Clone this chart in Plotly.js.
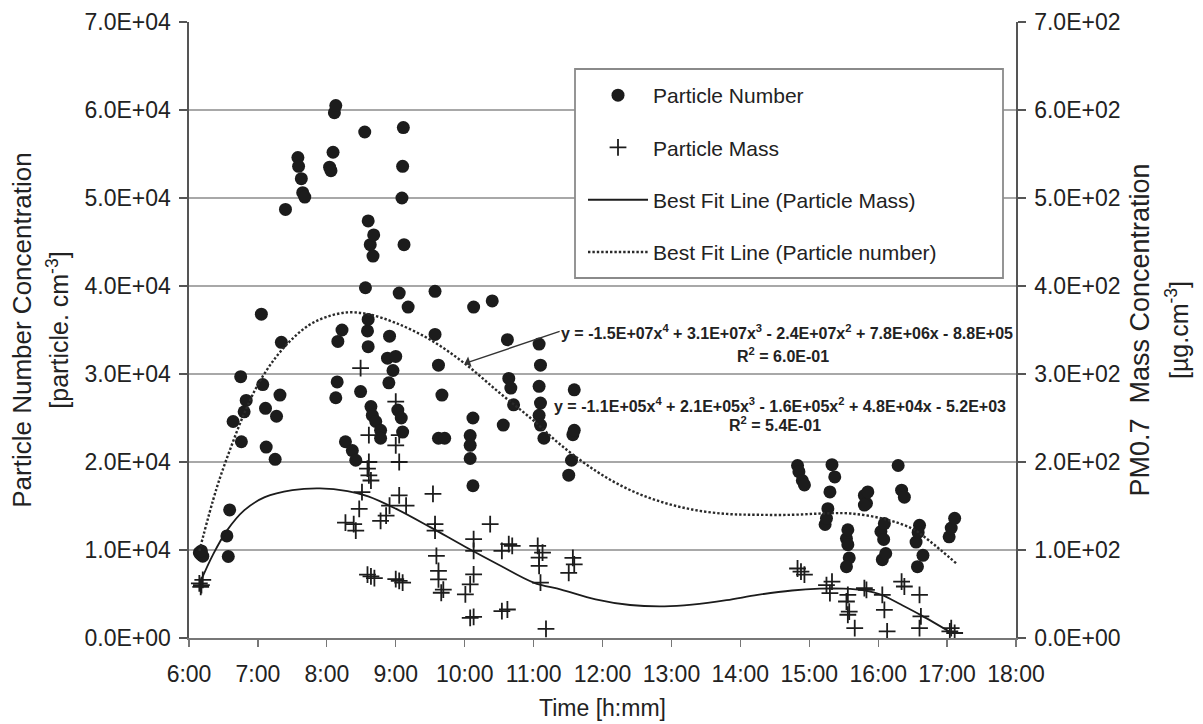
<!DOCTYPE html>
<html>
<head>
<meta charset="utf-8">
<script src="https://cdn.plot.ly/plotly-3.0.1.min.js"></script>
<style>html,body{margin:0;padding:0;background:#fff;}#chart{width:1203px;height:724px;}</style>
</head>
<body>
<div id="chart"></div>
<script>
// ---- data (time in decimal hours) ----
const numberTime = [6.15,6.17,6.20,6.18,6.55,6.57,6.59,6.64,6.75,6.76,6.80,6.83,
  7.05,7.07,7.11,7.12,7.25,7.27,7.32,7.34,7.40,7.58,7.59,7.63,7.65,7.68,
  8.04,8.06,8.09,8.11,8.13,8.13,8.15,8.16,8.22,8.27,8.37,8.42,
  8.49,8.55,8.56,8.59,8.60,8.60,8.60,8.63,8.67,8.68,8.64,8.66,8.71,8.78,8.78,
  8.88,8.90,8.91,8.96,9.00,9.03,9.08,9.10,9.05,9.09,9.10,9.11,9.12,9.18,
  9.57,9.57,9.62,9.67,9.62,9.71,
  10.08,10.08,10.08,10.12,10.12,10.13,10.40,
  10.56,10.62,10.64,10.67,10.71,
  11.08,11.10,11.08,11.10,11.08,11.10,11.15,
  11.51,11.55,11.57,11.59,11.59,
  14.83,14.85,14.90,14.93,
  15.23,15.25,15.27,15.30,15.33,15.37,
  15.54,15.56,15.58,15.54,15.56,
  15.80,15.83,15.85,15.80,
  16.04,16.09,16.06,16.11,16.08,
  16.29,16.34,16.38,
  16.55,16.60,16.57,16.65,16.58,
  17.03,17.06,17.11];
const numberConc = [9700,9500,9300,9900,11600,9260,14550,24600,29700,22300,25700,27000,
  36800,28800,26100,21700,20300,25200,27600,33600,48700,54600,53600,52200,50600,50100,
  53500,53100,55200,59700,60500,27300,29100,33700,35000,22300,21300,20200,
  28000,57500,39800,34900,36200,33100,47400,44700,43400,45800,26300,25300,24600,23600,22700,
  31800,29000,34300,30400,32000,25900,25000,23400,39200,50000,53600,58000,44700,37600,
  39400,34500,31000,27600,22700,22700,
  23000,21900,20400,25000,17300,37600,38300,
  24200,33900,29500,28400,26500,
  33400,31000,28600,26700,25300,24200,22700,
  18500,20200,23100,23600,28200,
  19600,18900,17900,17400,
  12900,13600,14700,16600,19700,18300,
  11300,10600,9100,8100,12300,
  16200,15300,16600,15100,
  12100,13000,8900,9600,11200,
  19600,16800,16000,
  10900,12800,8100,9400,12000,
  11500,12500,13600];

const massTime = [6.15,6.17,6.20,6.18,
  8.27,8.39,8.42,8.47,8.49,8.51,8.59,8.61,8.64,8.61,8.61,8.59,8.64,8.69,
  8.78,8.86,8.91,9.00,9.00,9.05,9.05,9.05,9.15,9.00,9.05,9.10,
  9.54,9.57,9.57,9.59,9.62,9.62,9.66,9.69,
  10.01,10.08,10.13,10.13,10.13,10.37,10.08,10.13,
  10.54,10.64,10.69,10.54,10.62,
  11.06,11.13,11.08,11.08,11.10,11.18,
  11.51,11.57,11.59,
  14.83,14.88,14.93,
  15.25,15.30,15.33,
  15.54,15.56,15.56,15.58,15.66,
  15.80,15.83,
  16.06,16.09,16.13,
  16.34,16.38,
  16.60,16.62,16.60,
  17.04,17.06,17.11];
const massConc = [62,58,66,60,
  131,129.5,122,146.7,306.7,165.7,192.4,184.8,179,200,230.5,72,70,68,
  133,139,150.5,268.6,219,230.5,200,162,150.5,67,65,63,
  163.8,129.5,122,93.3,76.2,66.7,51.4,55,
  49.5,61,72.4,99,112.4,129.5,22.9,24,
  99,106.7,104.8,30.5,32.4,
  104.8,97,91.4,82,62.9,10.3,
  74,91,83.6,
  79,75.5,72,
  60,51,64,
  41.5,49,26.4,30,11.3,
  56.6,54.7,
  49,32,7.5,
  64,58.5,
  49,24.5,11.3,
  7.5,11.3,5.7];

// best-fit curves
const fitNumberTime = [6.15,6.4,6.6,6.8,7.0,7.25,7.5,7.75,8.0,8.3,8.6,9.0,9.5,10.0,10.5,11.0,11.4,11.9,12.35,12.8,13.3,13.8,14.25,14.75,15.2,15.6,16.1,16.5,16.75,17.13];
const fitNumberConc = [9900,17000,21500,25500,28800,31800,34000,35600,36500,37000,36800,35800,33900,31200,27900,24700,21900,19000,17000,15600,14600,14100,14000,14000,14150,14150,13500,12400,11000,8500];
const fitMassTime = [6.15,6.35,6.55,6.8,7.1,7.5,7.9,8.3,8.6,9.0,9.5,10.0,10.5,11.0,11.4,11.9,12.4,12.9,13.3,13.8,14.25,14.75,15.15,15.5,15.8,16.05,16.33,16.62,17.06];
const fitMassConc = [61,95,122,145,160,168,170,167,161,147,126,104,83,63,55,44,37.5,36,38,43,49,54,56,56,54,49,38,26,6];

const xTickVals = [6,7,8,9,10,11,12,13,14,15,16,17,18];
const xTickText = ['6:00','7:00','8:00','9:00','10:00','11:00','12:00','13:00','14:00','15:00','16:00','17:00','18:00'];
const yTickVals = [0,10000,20000,30000,40000,50000,60000,70000];
const yTickText = ['0.0E+00','1.0E+04','2.0E+04','3.0E+04','4.0E+04','5.0E+04','6.0E+04','7.0E+04'];
const y2TickVals = [0,100,200,300,400,500,600,700];
const y2TickText = ['0.0E+00','1.0E+02','2.0E+02','3.0E+02','4.0E+02','5.0E+02','6.0E+02','7.0E+02'];
const gridVals = [10000,20000,30000,40000,50000,60000];

const FONT = 'Liberation Sans, Arial, Helvetica, sans-serif';
const INK = '#1c1c1c';
const L = 189, R = 1016, T = 22, B = 638;
const px = v => (v - L) / (R - L);
const py = v => (B - v) / (B - T);

const traces = [
  {x: numberTime, y: numberConc, type: 'scatter', mode: 'markers', name: 'Particle Number',
   legendgroup: 'a', marker: {symbol: 'circle', size: 13, color: INK}, yaxis: 'y'},
  {x: massTime, y: massConc, type: 'scatter', mode: 'markers', name: 'Particle Mass',
   legendgroup: 'b', marker: {symbol: 'cross-thin-open', size: 12, color: INK, line: {color: INK, width: 1.8}}, yaxis: 'y2'},
  {x: fitMassTime, y: fitMassConc, type: 'scatter', mode: 'lines', name: 'Best Fit Line (Particle Mass)',
   legendgroup: 'c', line: {color: INK, width: 1.8, shape: 'spline', smoothing: 1}, yaxis: 'y2'},
  {x: fitNumberTime, y: fitNumberConc, type: 'scatter', mode: 'lines', name: 'Best Fit Line (Particle number)',
   legendgroup: 'd', line: {color: '#2a2a2a', width: 2.4, dash: '2.4px,2px', shape: 'spline', smoothing: 1}, yaxis: 'y3'}
];

const eqFont = {family: FONT, size: 16, color: '#222'};

const layout = {
  width: 1203, height: 724,
  margin: {l: L, r: 1203 - R, t: T, b: 724 - B, pad: 0},
  paper_bgcolor: '#fff', plot_bgcolor: '#fff',
  font: {family: FONT, color: '#222'},
  showlegend: true,
  legend: {x: px(583), y: py(75), xanchor: 'left', yanchor: 'top', bgcolor: 'rgba(0,0,0,0)',
    borderwidth: 0, font: {family: FONT, size: 21, color: '#222'},
    traceorder: 'grouped', tracegroupgap: 22, itemwidth: 60},
  xaxis: {range: [6, 18], tickvals: xTickVals, ticktext: xTickText, ticks: 'outside', ticklen: 7,
    tickcolor: '#777', tickwidth: 1.3, showline: true, linecolor: '#777', linewidth: 1.6,
    showgrid: false, zeroline: false, ticklabelstandoff: 8, tickfont: {family: FONT, size: 23, color: '#222'},
    title: {text: 'Time [h:mm]', font: {family: FONT, size: 23, color: '#222'}, standoff: 13}},
  yaxis: {range: [0, 70000], tickvals: yTickVals, ticktext: yTickText, ticks: 'outside', ticklen: 8,
    tickcolor: '#555', tickwidth: 1.3, showline: true, linecolor: '#555', linewidth: 1.6,
    showgrid: false, zeroline: false, ticklabelstandoff: 4, tickfont: {family: FONT, size: 23, color: '#222'},
    title: {text: "<span style='font-size:26px'>Particle Number Concentration</span><br><span style='font-size:25px'>[particle. cm<sup>-3</sup>]</span>",
      font: {family: FONT, size: 28.5, color: '#222'}, standoff: 7}},
  yaxis2: {range: [0, 700], overlaying: 'y', side: 'right', tickvals: y2TickVals, ticktext: y2TickText,
    ticks: 'outside', ticklen: 8, tickcolor: '#555', tickwidth: 1.3, showline: true, linecolor: '#555', linewidth: 1.6,
    showgrid: false, zeroline: false, ticklabelstandoff: 4, tickfont: {family: FONT, size: 23, color: '#222'},
    title: {text: "<span style='font-size:27px'>PM0.7  Mass Concentration</span><br><span style='font-size:25px'>[µg.cm<sup>-3</sup>]</span>",
      font: {family: FONT, size: 30, color: '#222'}, standoff: 8}},
  yaxis3: {range: [0, 70000], overlaying: 'y', side: 'left', tickvals: gridVals, showticklabels: false,
    ticks: '', showline: false, zeroline: false, showgrid: true, gridcolor: '#a8a8a8', gridwidth: 1.5},
  shapes: [
    {type: 'rect', xref: 'paper', yref: 'paper', x0: px(575), x1: px(1003),
     y0: py(278), y1: py(69), fillcolor: '#fff', line: {color: '#8a8a8a', width: 1.8}, layer: 'above'}
  ],
  annotations: [
    {xref: 'paper', yref: 'paper', x: px(787), y: py(332), xanchor: 'center', yanchor: 'middle', showarrow: false,
     text: '<b>y = -1.5E+07x<sup>4</sup> + 3.1E+07x<sup>3</sup> - 2.4E+07x<sup>2</sup> + 7.8E+06x - 8.8E+05</b>',
     font: eqFont},
    {xref: 'paper', yref: 'paper', x: px(783), y: py(354.5), xanchor: 'center', yanchor: 'middle', showarrow: false,
     text: '<b>R<sup>2</sup> = 6.0E-01</b>', font: eqFont},
    {xref: 'paper', yref: 'paper', x: px(780), y: py(404.5), xanchor: 'center', yanchor: 'middle', showarrow: false,
     text: '<b>y = -1.1E+05x<sup>4</sup> + 2.1E+05x<sup>3</sup> - 1.6E+05x<sup>2</sup> + 4.8E+04x - 5.2E+03</b>',
     font: eqFont},
    {xref: 'paper', yref: 'paper', x: px(775), y: py(423.5), xanchor: 'center', yanchor: 'middle', showarrow: false,
     text: '<b>R<sup>2</sup> = 5.4E-01</b>', font: eqFont},
    {x: 10.0, y: 31200, xref: 'x', yref: 'y', ax: 11.40, ay: 34900, axref: 'x', ayref: 'y',
     text: '', showarrow: true, arrowhead: 1, arrowsize: 1.3, arrowwidth: 1.4, arrowcolor: '#333', standoff: 0}
  ]
};

Plotly.newPlot('chart', traces, layout, {displayModeBar: false, staticPlot: true});
</script>
</body>
</html>
